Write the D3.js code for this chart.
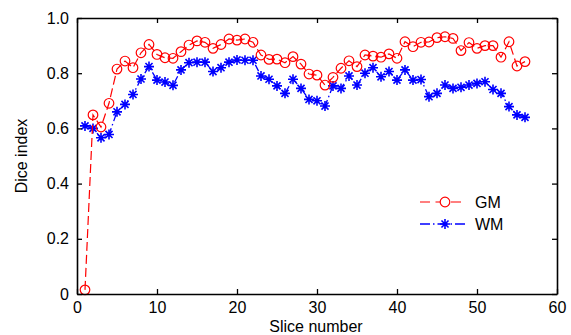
<!DOCTYPE html>
<html>
<head>
<meta charset="utf-8">
<script src="https://cdn.jsdelivr.net/npm/d3@7"></script>
<style>
  body { margin: 0; background: #fff; }
  text { font-family: "Liberation Sans", Arial, sans-serif; }
</style>
</head>
<body>
<div class="chart"></div>
<script>
// slice numbers 1..56 and the dice index for each tissue
const slices = [1,2,3,4,5,6,7,8,9,10,11,12,13,14,15,16,17,18,19,20,21,22,23,24,25,26,27,28,
  29,30,31,32,33,34,35,36,37,38,39,40,41,42,43,44,45,46,47,48,49,50,51,52,53,54,55,56]
const gmValues = [0.015,0.649,0.605,0.691,0.815,0.844,0.820,0.874,0.904,0.868,0.856,0.854,0.878,0.902,
  0.917,0.912,0.890,0.904,0.924,0.920,0.924,0.912,0.866,0.850,0.851,0.838,0.860,0.833,
  0.797,0.793,0.757,0.785,0.818,0.845,0.824,0.866,0.862,0.858,0.870,0.854,0.914,0.896,
  0.912,0.913,0.929,0.932,0.926,0.882,0.911,0.890,0.900,0.900,0.858,0.914,0.826,0.842]
const wmValues = [0.609,0.600,0.566,0.578,0.660,0.687,0.723,0.779,0.824,0.775,0.768,0.756,0.812,0.838,
  0.840,0.840,0.806,0.820,0.840,0.848,0.847,0.847,0.790,0.778,0.754,0.727,0.778,0.745,
  0.705,0.700,0.681,0.754,0.745,0.790,0.757,0.800,0.820,0.787,0.806,0.775,0.812,0.775,
  0.777,0.715,0.727,0.757,0.745,0.749,0.757,0.763,0.769,0.741,0.727,0.679,0.649,0.640]
const xTicks = [0,10,20,30,40,50,60]
const yTicks = [0,0.2,0.4,0.6,0.8,1.0]
const yTickLabels = ['0','0.2','0.4','0.6','0.8','1.0']
const seriesNames = ['GM','WM']

const margin = ({top: 18, right: 14, bottom: 41, left: 77})
const width = 571 - margin.left - margin.right,
  height = 335 - margin.top - margin.bottom

const svg = d3.select('.chart').append('svg')
  .attr('width', width + margin.left + margin.right)
  .attr('height', height + margin.top + margin.bottom)
  .append('g')
  .attr('transform', 'translate(' + margin.left + ',' + margin.top + ')')

const x = d3.scaleLinear().domain([0, 60]).range([0, width])
const y = d3.scaleLinear().domain([0, 1]).range([height, 0])

// asterisk marker like matlab '*'
function star(r) {
  const a = r * Math.SQRT1_2
  return `M${-r},0L${r},0M0,${-r}L0,${r}M${-a},${-a}L${a},${a}M${-a},${a}L${a},${-a}`
}

const gm = slices.map((s, i) => ({s: s, v: gmValues[i]}))
const wm = slices.map((s, i) => ({s: s, v: wmValues[i]}))

const line = d3.line().x(d => x(d.s)).y(d => y(d.v))

// WM: blue dash-dot with stars
svg.append('path')
  .datum(wm)
  .attr('d', line)
  .attr('fill', 'none')
  .attr('stroke', '#0000ff')
  .attr('stroke-width', 1.3)
  .attr('stroke-dasharray', '7,3,1.5,3')

svg.selectAll('.wm')
  .data(wm)
  .enter()
  .append('path')
  .attr('class', 'wm')
  .attr('transform', d => `translate(${x(d.s)},${y(d.v)})`)
  .attr('d', star(5))
  .attr('fill', 'none')
  .attr('stroke', '#0000ff')
  .attr('stroke-width', 1.6)

// GM: red dashed with open circles
svg.append('path')
  .datum(gm)
  .attr('d', line)
  .attr('fill', 'none')
  .attr('stroke', '#ff0000')
  .attr('stroke-width', 1.2)
  .attr('stroke-dasharray', '9,4')

svg.selectAll('.gm')
  .data(gm)
  .enter()
  .append('circle')
  .attr('class', 'gm')
  .attr('cx', d => x(d.s))
  .attr('cy', d => y(d.v))
  .attr('r', 4.8)
  .attr('fill', 'none')
  .attr('stroke', '#ff0000')
  .attr('stroke-width', 1.2)

// axes, ticks pointing inwards on all four sides
const xAxis = d3.axisBottom(x).tickValues(xTicks).tickSize(-5).tickSizeOuter(0).tickPadding(8)
const yAxis = d3.axisLeft(y).tickValues(yTicks).tickSize(-5).tickSizeOuter(0).tickPadding(8)
  .tickFormat((d, i) => yTickLabels[i])

svg.append('g')
  .attr('class', 'axis x-axis')
  .attr('transform', `translate(0, ${height})`)
  .call(xAxis)
svg.append('g')
  .attr('class', 'axis y-axis')
  .call(yAxis)
svg.append('g')
  .attr('class', 'axis')
  .call(d3.axisTop(x).tickValues(xTicks).tickSize(-5).tickSizeOuter(0).tickFormat(''))
svg.append('g')
  .attr('class', 'axis')
  .attr('transform', `translate(${width}, 0)`)
  .call(d3.axisRight(y).tickValues(yTicks).tickSize(-5).tickSizeOuter(0).tickFormat(''))

svg.selectAll('.axis path').attr('stroke', '#000').attr('stroke-width', 1.6)
svg.selectAll('.axis line').attr('stroke', '#000').attr('stroke-width', 1.3)
svg.selectAll('.axis text')
  .attr('font-size', 16)
  .attr('font-family', '"Liberation Sans", Arial, sans-serif')
  .attr('fill', '#000')

svg.append('text')
  .attr('x', width / 2 - 1)
  .attr('y', height + 38)
  .attr('text-anchor', 'middle')
  .attr('font-size', 16)
  .text('Slice number')

svg.append('text')
  .attr('transform', `translate(-50, ${height / 2}) rotate(-90)`)
  .attr('text-anchor', 'middle')
  .attr('font-size', 16)
  .text('Dice index')

// legend
const legend = svg.append('g').attr('transform', 'translate(343, 184)')
legend.append('line')
  .attr('x1', 0).attr('x2', 46).attr('y1', 0).attr('y2', 0)
  .attr('stroke', '#ff0000').attr('stroke-width', 1.2).attr('stroke-dasharray', '10,5.5')
  .attr('stroke-dashoffset', 0)
legend.append('circle')
  .attr('cx', 25).attr('cy', 0).attr('r', 4.8)
  .attr('fill', '#fff').attr('stroke', '#ff0000').attr('stroke-width', 1.2)
legend.append('line')
  .attr('x1', 0).attr('x2', 46).attr('y1', 22).attr('y2', 22)
  .attr('stroke', '#0000ff').attr('stroke-width', 1.3).attr('stroke-dasharray', '10,3,1.5,3')
legend.append('path')
  .attr('transform', 'translate(25,22)')
  .attr('d', star(5))
  .attr('fill', 'none').attr('stroke', '#0000ff').attr('stroke-width', 1.6)
legend.selectAll('.legend-label')
  .data(seriesNames)
  .enter()
  .append('text')
  .attr('class', 'legend-label')
  .attr('x', 55)
  .attr('y', (d, i) => i * 22 + 6)
  .attr('font-size', 16)
  .text(d => d)
</script>
</body>
</html>
